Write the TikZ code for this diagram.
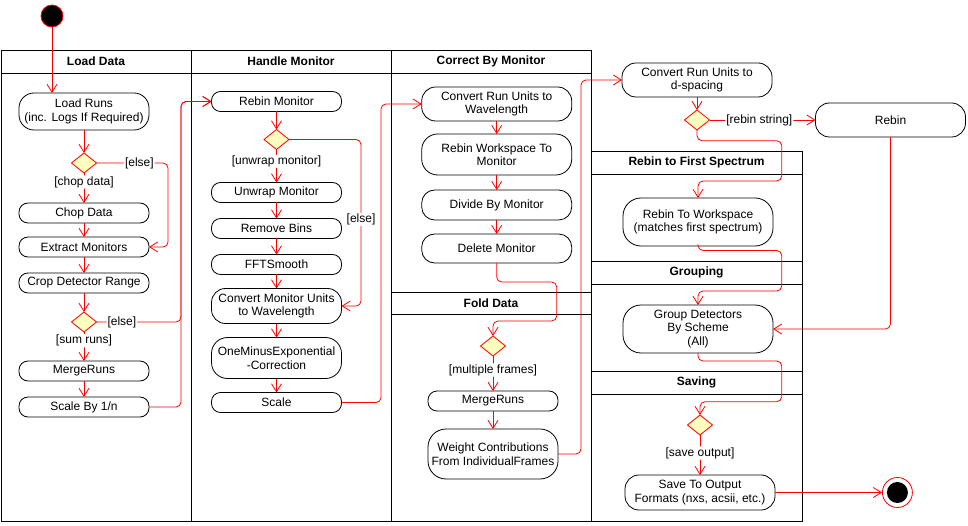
\documentclass[tikz,border=0pt]{standalone}
\usepackage{fontspec}
\setmainfont{Liberation Sans}
\usetikzlibrary{positioning,shapes.geometric,arrows.meta}
\definecolor{decfill}{HTML}{FFFFC0}

\begin{document}
\begin{tikzpicture}[
  x=1pt, y=-1pt,
  font=\fontsize{12}{13.5}\selectfont,
  box/.style={draw, rounded corners=9pt, align=center, inner sep=1pt, outer sep=0pt, fill=white, minimum width=130pt, minimum height=20pt, line width=0.8pt},
  wide/.style={minimum width=150pt},
  dec/.style={diamond, draw=red, fill=decfill, inner sep=0pt, outer sep=0pt, minimum width=25pt, minimum height=20pt, line width=0.8pt},
  arr/.style={draw=red, line width=0.8pt, rounded corners=5pt, -{Straight Barb[length=8pt,width=10pt]}},
  lbl/.style={fill=white, inner sep=1pt},
  lane/.style={draw, line width=0.8pt},
  ttl/.style={font=\bfseries\fontsize{12}{14}\selectfont}
]
\useasboundingbox (0,0) rectangle (968,526);

\draw[lane] (1,50) rectangle (591,521);
\draw[lane] (1,73) -- (591,73);
\draw[lane] (191,50) -- (191,521);
\draw[lane] (391,50) -- (391,521);
\draw[lane] (391,292) -- (591,292) (391,314) -- (591,314);
\draw[lane] (591,151) rectangle (802,521);
\draw[lane] (591,174) -- (802,174) (591,261) -- (802,261) (591,284) -- (802,284);
\draw[lane] (591,371) -- (802,371) (591,394) -- (802,394);

\node[ttl] (tload) at (96,61.5) {Load Data};
\node[ttl] (tmon) at (291,61.5) {Handle Monitor};
\node[ttl] (tcorr) at (491,61.5) {Correct By Monitor};
\node[ttl] (tfold) at (491,303) {Fold Data};
\node[ttl] (trebin) at (696.5,162.5) {Rebin to First Spectrum};
\node[ttl] (tgroup) at (696.5,272.5) {Grouping};
\node[ttl] (tsave) at (696.5,382.5) {Saving};

\node[circle, fill=black, draw=red, line width=0.8pt, minimum size=22pt, inner sep=0pt] (start) at (52,16) {};

\node[box, minimum height=37pt, rounded corners=15pt] (loadruns) at (84,111.5) {Load Runs\\(inc. Logs If Required)};
\node[dec, below=23pt of loadruns] (chopq) {};
\node[box, below=30pt of chopq] (chop) {Chop Data};
\node[box, below=14pt of chop] (extract) {Extract Monitors};
\node[box, below=16pt of extract] (crop) {Crop Detector Range};
\node[dec, below=19pt of crop] (sumq) {};
\node[box, below=29pt of sumq] (mergea) {MergeRuns};
\node[box, below=16pt of mergea] (scalea) {Scale By 1/n};

\node[box] (rebinmon) at (276.5,101.5) {Rebin Monitor};
\node[dec, below=18pt of rebinmon] (unwrapq) {};
\node[box, below=33pt of unwrapq] (unwrap) {Unwrap Monitor};
\node[box, below=16pt of unwrap] (rmbins) {Remove Bins};
\node[box, below=16pt of rmbins] (fft) {FFTSmooth};
\node[box, below=14pt of fft, minimum height=35pt, rounded corners=14pt] (convmon) {Convert Monitor Units\\to Wavelength};
\node[box, below=14pt of convmon, minimum height=41pt, rounded corners=16pt] (oneminus) {OneMinusExponential\\-Correction};
\node[box, below=14pt of oneminus] (scaleb) {Scale};

\node[box, wide, minimum height=34pt, rounded corners=14pt] (convrun) at (496.7,104) {Convert Run Units to\\Wavelength};
\node[box, wide, below=13pt of convrun, minimum height=41pt, rounded corners=16pt] (rebinws) {Rebin Workspace To\\Monitor};
\node[box, wide, below=15pt of rebinws, minimum height=30pt, rounded corners=13pt] (divide) {Divide By Monitor};
\node[box, wide, below=14pt of divide, minimum height=29pt, rounded corners=13pt] (delmon) {Delete Monitor};
\node[dec] (foldq) at (493,346) {};
\node[box, below=35pt of foldq] (mergeb) {MergeRuns};
\node[box, below=18pt of mergeb, minimum height=50pt, rounded corners=18pt] (weight) {Weight Contributions\\From IndividualFrames};

\node[box, wide, minimum height=34pt, rounded corners=14pt] (convd) at (697,80) {Convert Run Units to\\d-spacing};
\node[dec, below=13pt of convd] (rebinq) {};
\node[box, wide, right=106pt of rebinq, minimum height=34pt, rounded corners=14pt] (rebin) {Rebin};
\node[box, wide, minimum height=48pt, rounded corners=18pt] (rebinws2) at (698,222) {Rebin To Workspace\\(matches first spectrum)};
\node[box, wide, below=59pt of rebinws2, minimum height=48pt, rounded corners=18pt] (group) {Group Detectors\\By Scheme\\(All)};
\node[dec] (saveq) at (700,425) {};
\node[box, wide, below=40pt of saveq, minimum height=35pt, rounded corners=14pt] (save) {Save To Output\\Formats (nxs, acsii, etc.)};
\node[circle, draw=red, fill=white, line width=0.8pt, minimum size=30pt, inner sep=0pt, right=107pt of save] (stop) {};
\node[circle, fill=black, minimum size=21pt, inner sep=0pt] (stopdot) at (stop) {};

\coordinate (k1) at (556.7,282);
\coordinate (k2) at (556.7,321);
\coordinate (k3) at (781.7,140.7);
\coordinate (k4) at (781.7,181);
\coordinate (k5) at (781.7,250.5);
\coordinate (k6) at (781.7,291);
\coordinate (k7) at (781.7,361);
\coordinate (k8) at (781.7,401.7);

\draw[arr] (start) -- (start |- loadruns.north);
\draw[arr] (loadruns) -- (chopq);
\draw[arr] (chopq) -- node[lbl, pos=0.3] {[chop data]} (chop);
\draw[arr] (chopq) -- node[lbl, pos=0.6] {[else]} ++(84,0) |- (extract);
\draw[arr] (chop) -- (extract);
\draw[arr] (extract) -- (crop);
\draw[arr] (crop) -- (sumq);
\draw[arr] (sumq) -- node[lbl, pos=0.3] {[sum runs]} (mergea);
\draw[arr] (sumq) -- node[lbl, pos=0.3] {[else]} ++(97,0) |- (rebinmon);
\draw[arr] (mergea) -- (scalea);
\draw[arr] (scalea) -- ++(97,0) |- (rebinmon);

\draw[arr] (rebinmon) -- (unwrapq);
\draw[arr] (unwrapq) -- node[lbl, pos=0.36] {[unwrap monitor]} (unwrap);
\draw[arr] (unwrapq) -- ++(84.5,0) |- node[lbl, pos=0.24] {[else]} (convmon);
\draw[arr] (unwrap) -- (rmbins);
\draw[arr] (rmbins) -- (fft);
\draw[arr] (fft) -- (convmon);
\draw[arr] (convmon) -- (oneminus);
\draw[arr] (oneminus) -- (scaleb);
\draw[arr] (scaleb) -- ++(104.5,0) |- (convrun);

\draw[arr] (convrun) -- (rebinws);
\draw[arr] (rebinws) -- (divide);
\draw[arr] (divide) -- (delmon);
\draw[arr] (delmon) |- (k1) -- (k2) -| (foldq);
\draw[arr] (foldq) -- node[lbl, pos=0.4] {[multiple frames]} (mergeb);
\draw[arr] (mergeb) -- (weight);
\draw[arr] (weight) -- ++(88,0) |- (convd);

\draw[arr] (convd) -- (rebinq);
\draw[arr] (rebinq) -- node[lbl, pos=0.47] {[rebin string]} (rebin);
\draw[arr] (rebinq) |- (k3) -- (k4) -| (rebinws2);
\draw[arr] (rebinws2) |- (k5) -- (k6) -| (group);
\draw[arr] (rebin) |- (group);
\draw[arr] (group) |- (k7) -- (k8) -| (saveq);
\draw[arr] (saveq) -- node[lbl, pos=0.45] {[save output]} (save);
\draw[arr] (save) -- (stop);

\end{tikzpicture}
\end{document}
